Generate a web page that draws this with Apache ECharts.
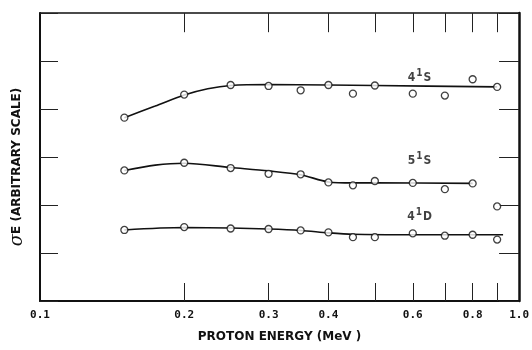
<!DOCTYPE html>
<html>
<head>
<meta charset="utf-8">
<script src="https://cdn.jsdelivr.net/npm/echarts@6/dist/echarts.min.js"></script>
<style>
  html, body { margin: 0; padding: 0; background: #fff; }
  #chart { width: 532px; height: 350px; }
</style>
</head>
<body>
<div id="chart"></div>
<script>
// proton energy (MeV) for the measured points
var energy = [0.15, 0.2, 0.25, 0.3, 0.35, 0.4, 0.45, 0.5, 0.6, 0.7, 0.8, 0.9];

// measured cross sections (arbitrary scale)
var s41 = [3.82, 4.30, 4.50, 4.48, 4.39, 4.50, 4.32, 4.49, 4.32, 4.28, 4.62, 4.46];
var s51 = [2.72, 2.88, 2.77, 2.65, 2.64, 2.47, 2.41, 2.50, 2.46, 2.33, 2.45, 1.97];
var d41 = [1.48, 1.54, 1.51, 1.50, 1.47, 1.43, 1.33, 1.33, 1.41, 1.36, 1.38, 1.28];

// hand drawn curves through the points
var curve41sE = [0.15, 0.174, 0.2, 0.224, 0.25, 0.3, 0.4, 0.5, 0.9];
var curve41sV = [3.82, 4.06, 4.29, 4.42, 4.49, 4.51, 4.50, 4.49, 4.46];
var curve51sE = [0.15, 0.174, 0.2, 0.25, 0.3, 0.35, 0.4, 0.45, 0.5, 0.8];
var curve51sV = [2.72, 2.83, 2.87, 2.78, 2.71, 2.63, 2.48, 2.46, 2.46, 2.45];
var curve41dE = [0.15, 0.2, 0.25, 0.3, 0.35, 0.4, 0.45, 0.6, 0.926];
var curve41dV = [1.48, 1.53, 1.52, 1.50, 1.47, 1.42, 1.39, 1.38, 1.38];

// level labels
var levelNames = ['{a|4}{b|1}{a|S}', '{a|5}{b|1}{a|S}', '{a|4}{b|1}{a|D}'];
var levelE = [0.62, 0.62, 0.62];
var levelV = [4.68, 2.96, 1.79];

// x tick marks (top and bottom) and labelled values, in MeV
var xTicks = [0.2, 0.3, 0.4, 0.5, 0.6, 0.7, 0.8, 0.9];
var xLabels = [0.1, 0.2, 0.3, 0.4, 0.6, 0.8, 1.0];

var yMin = 0, yMax = 6;
var tickLenBottom = 0.37, tickLenTop = 0.4; // in y units

// the energy axis is logarithmic: plot log10(E) on a linear axis
function lg(v) { return Math.log10(v); }

function pairs(xs, ys) {
  return xs.map(function (x, i) { return [lg(x), ys[i]]; });
}

// inward x ticks as short segments through the axes' scales
var tickSegments = [];
xTicks.forEach(function (t) {
  tickSegments.push([{ coord: [lg(t), yMin] }, { coord: [lg(t), yMin + tickLenBottom] }]);
  tickSegments.push([{ coord: [lg(t), yMax] }, { coord: [lg(t), yMax - tickLenTop] }]);
});

var myChart = echarts.init(document.getElementById('chart'));

var xBase = {
  type: 'value',
  min: -1,
  max: 0,
  axisLine: { onZero: false, lineStyle: { color: '#111', width: 2 } },
  axisTick: { show: true, inside: true, length: 18, customValues: xTicks.map(lg), lineStyle: { color: '#222', width: 1 } },
  splitLine: { show: false },
  minorTick: { show: false }
};

var yBase = {
  type: 'value',
  min: yMin,
  max: yMax,
  interval: 1,
  axisLine: { show: true, onZero: false, lineStyle: { color: '#111', width: 2 } },
  axisTick: { inside: true, length: 18, lineStyle: { color: '#222', width: 1 } },
  axisLabel: { show: false },
  splitLine: { show: false }
};

var pointStyle = {
  type: 'scatter',
  symbol: 'circle',
  symbolSize: 7,
  itemStyle: { color: '#fff', borderColor: '#111', borderWidth: 1.3 },
  z: 5
};

var lineStyle = {
  type: 'line',
  showSymbol: false,
  smooth: 0.3,
  lineStyle: { color: '#111', width: 1.6 },
  z: 3
};

var option = {
  animation: false,
  grid: { left: 40, right: 12, top: 13, bottom: 49 },
  xAxis: [
    Object.assign({}, xBase, {
      position: 'bottom',
      name: 'PROTON ENERGY (MeV )',
      nameLocation: 'middle',
      nameGap: 30,
      nameTextStyle: { fontFamily: 'DejaVu Sans', fontWeight: 'bold', fontSize: 12, color: '#111' },
      axisLabel: {
        customValues: xLabels.map(lg),
        interval: 0,
        margin: 9,
        fontFamily: 'DejaVu Sans Mono',
        fontWeight: 'bold',
        fontSize: 11,
        color: '#111',
        formatter: function (v) { return Math.pow(10, v).toFixed(1); }
      }
    }),
    Object.assign({}, xBase, {
      position: 'top',
      axisLine: { onZero: false, lineStyle: { color: '#111', width: 1.5 } },
      axisTick: { show: true, inside: true, length: 19, customValues: xTicks.map(lg), lineStyle: { color: '#222', width: 1 } },
      axisLabel: { show: false }
    })
  ],
  yAxis: [
    Object.assign({}, yBase, {
      position: 'left',
      name: '{s|σ}E (ARBITRARY SCALE)',
      nameLocation: 'middle',
      nameGap: 14,
      nameTextStyle: {
        fontFamily: 'DejaVu Sans',
        fontWeight: 'bold',
        fontSize: 12,
        color: '#111',
        padding: [0, 20, 0, 0],
        rich: {
          s: { fontFamily: 'DejaVu Serif', fontStyle: 'italic', fontWeight: 'normal', fontSize: 18, color: '#111' }
        }
      }
    }),
    Object.assign({}, yBase, {
      position: 'right',
      axisLine: { show: true, onZero: false, lineStyle: { color: '#111', width: 2.5 } },
      axisTick: { inside: true, length: 20, lineStyle: { color: '#222', width: 1 } }
    })
  ],
  series: [
    Object.assign({}, lineStyle, {
      name: '4S curve',
      data: pairs(curve41sE, curve41sV),
      markLine: {
        silent: true,
        animation: false,
        symbol: ['none', 'none'],
        label: { show: false },
        lineStyle: { type: 'solid', color: '#222', width: 1 },
        emphasis: { disabled: true },
        data: tickSegments
      }
    }),
    Object.assign({}, lineStyle, { name: '5S curve', data: pairs(curve51sE, curve51sV) }),
    Object.assign({}, lineStyle, { name: '4D curve', data: pairs(curve41dE, curve41dV) }),
    Object.assign({}, pointStyle, { name: '4S', data: pairs(energy, s41) }),
    Object.assign({}, pointStyle, { name: '5S', data: pairs(energy, s51) }),
    Object.assign({}, pointStyle, { name: '4D', data: pairs(energy, d41) }),
    {
      type: 'scatter',
      name: 'levels',
      symbolSize: 0,
      silent: true,
      data: levelE.map(function (e, i) { return { value: [lg(e), levelV[i]], name: levelNames[i] }; }),
      label: {
        show: true,
        position: 'inside',
        formatter: function (p) { return p.name; },
        rich: {
          a: { fontFamily: 'DejaVu Sans Condensed', fontWeight: 'bold', fontSize: 12, color: '#111', lineHeight: 16, verticalAlign: 'bottom' },
          b: { fontFamily: 'DejaVu Sans Condensed', fontWeight: 'bold', fontSize: 10, color: '#111', verticalAlign: 'top', padding: [0, 1, 6, 1] }
        }
      }
    }
  ]
};

myChart.setOption(option);
window.onresize = myChart.resize;
</script>
</body>
</html>
